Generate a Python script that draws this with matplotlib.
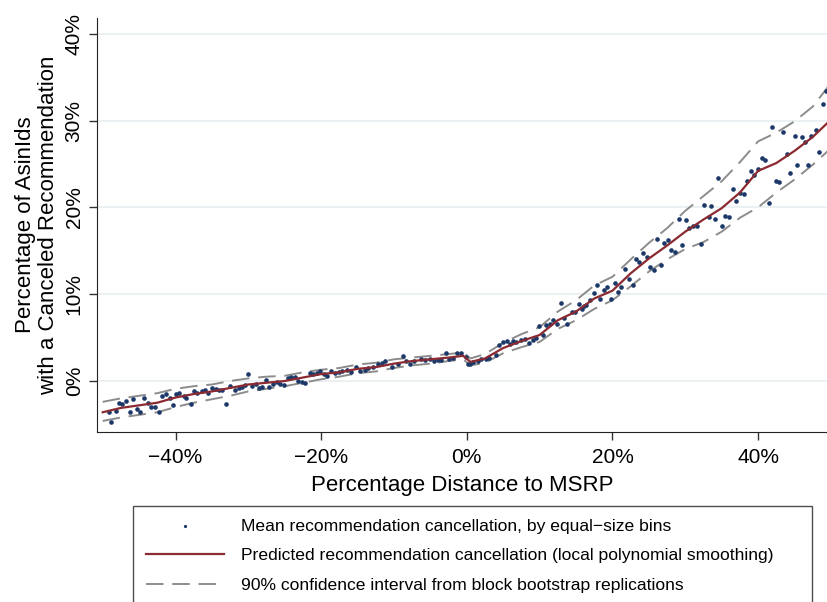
"""
Binned scatter of recommendation cancellation vs. distance to MSRP,
with local polynomial fit and bootstrap confidence band.
"""
import matplotlib
matplotlib.use('Agg')
import matplotlib.pyplot as plt
from matplotlib.ticker import FixedLocator, FuncFormatter

plt.rcParams['font.family'] = ['Liberation Sans', 'DejaVu Sans']

# binned means (x = % distance to MSRP, y = % with a canceled recommendation)
BIN_X = [
    -49.2, -48.8, -48.2, -47.8, -47.3, -46.8, -46.2, -45.8, -45.3, -44.9,
    -44.3, -43.8, -43.4, -42.8, -42.3, -41.9, -41.3, -40.8, -40.3, -39.9,
    -39.5, -38.9, -38.5, -37.9, -37.5, -37.0, -36.4, -35.9, -35.5, -35.0,
    -34.5, -34.0, -33.6, -33.0, -32.5, -31.8, -31.3, -30.9, -30.5, -30.0,
    -29.5, -29.0, -28.5, -28.1, -27.6, -27.2, -26.6, -26.1, -25.6, -25.1,
    -24.6, -24.2, -23.6, -23.2, -22.6, -22.2, -21.6, -21.1, -20.6, -20.2,
    -19.6, -19.2, -18.7, -18.1, -17.6, -17.2, -16.5, -15.9, -15.2, -14.6,
    -14.0, -13.5, -12.9, -12.2, -11.6, -11.2, -10.3, -9.5, -8.8, -8.3,
    -7.8, -7.2, -6.3, -5.8, -5.1, -4.5, -3.9, -3.5, -2.9, -2.4,
    -1.9, -1.3, -0.8, -0.1, 0.2, 0.5, 0.9, 1.5, 2.0, 2.6,
    3.0, 4.0, 4.4, 5.0, 5.5, 5.9, 6.4, 6.8, 7.4, 8.0,
    8.5, 9.1, 9.5, 9.9, 10.5, 10.9, 11.4, 11.9, 12.4, 12.9,
    13.3, 13.8, 14.4, 14.8, 15.4, 15.8, 16.1, 16.4, 16.9, 17.4,
    17.9, 18.3, 18.8, 19.3, 19.8, 20.3, 20.8, 21.2, 21.7, 22.3,
    22.8, 23.2, 23.7, 24.2, 24.7, 25.1, 25.7, 26.1, 26.6, 27.1,
    27.6, 28.1, 28.6, 29.2, 29.6, 30.1, 30.5, 31.1, 31.6, 32.1,
    32.6, 33.2, 33.5, 34.1, 34.5, 35.0, 35.5, 36.0, 36.5, 37.0,
    37.5, 38.0, 38.5, 39.0, 39.5, 40.0, 40.5, 40.9, 41.5, 41.9,
    42.4, 42.9, 43.4, 44.0, 44.4, 45.0, 45.4, 46.0, 46.4, 46.9,
    47.3, 47.9, 48.4, 48.9, 49.3,
]
BIN_Y = [
    -3.6, -4.7, -3.4, -2.5, -2.7, -2.3, -3.6, -2.1, -3.2, -3.6,
    -1.9, -2.5, -3.0, -3.0, -3.6, -1.7, -1.5, -2.0, -2.8, -1.5,
    -1.4, -1.7, -2.0, -2.6, -1.2, -1.4, -1.2, -1.0, -1.4, -0.8,
    -0.9, -1.0, -1.0, -2.65, -0.6, -1.0, -0.8, -0.7, -0.5, 0.8,
    -0.6, -0.3, -0.8, -0.7, 0.1, -0.7, -0.3, -0.1, -0.3, -0.5,
    0.4, 0.5, 0.5, 0.0, -0.1, -0.2, 0.9, 0.8, 0.9, 1.1,
    0.8, 0.6, 1.2, 0.9, 1.0, 1.1, 1.3, 1.0, 1.6, 1.1,
    1.3, 1.5, 1.6, 2.0, 2.1, 2.3, 1.6, 2.0, 2.9, 2.3,
    2.0, 2.3, 2.5, 2.4, 2.5, 2.3, 2.4, 2.4, 3.2, 2.5,
    2.7, 3.2, 3.2, 2.8, 2.0, 2.0, 2.2, 2.3, 2.5, 2.5,
    2.6, 3.0, 4.1, 4.5, 4.6, 4.3, 4.6, 4.5, 4.7, 4.8,
    4.4, 4.7, 4.9, 6.3, 5.3, 6.5, 6.6, 7.0, 6.6, 9.0,
    7.2, 6.6, 7.9, 7.9, 8.9, 8.3, 8.6, 8.8, 9.3, 10.1,
    11.1, 9.5, 10.5, 10.8, 9.4, 11.3, 10.2, 10.8, 12.9, 11.7,
    11.1, 14.0, 13.7, 14.7, 14.3, 13.1, 12.8, 16.4, 13.4, 15.9,
    16.2, 15.1, 14.9, 18.7, 15.7, 18.5, 17.6, 17.9, 17.9, 15.8,
    20.3, 18.9, 20.2, 18.7, 23.4, 17.8, 19.0, 18.9, 22.1, 20.7,
    21.6, 21.5, 23.0, 24.2, 23.7, 24.4, 25.7, 25.4, 20.5, 29.2,
    23.0, 22.9, 28.7, 26.1, 24.0, 28.2, 24.9, 28.1, 27.5, 24.9,
    28.2, 28.9, 26.4, 31.9, 33.4,
]

# smoothed fit and 90% bootstrap band, read at fixed x positions
FIT_X = [-50, -47.5, -45, -42.5, -40, -37.5, -35, -32.5, -30, -27.5,
         -25, -22.5, -20, -17.5, -15, -12.5, -10, -7.5, -5, -2.5,
         -0.5, 0.5, 2.5, 5, 7.5, 10, 12.5, 15, 17.5, 20,
         22.5, 25, 27.5, 30, 32.5, 35, 37.5, 40, 42.5, 45,
         47.5, 50]
FIT_Y = [-3.6, -3.1, -2.8, -2.5, -1.9, -1.5, -1.2, -0.8, -0.4, -0.2,
         0.0, 0.4, 0.8, 1.0, 1.4, 1.6, 2.0, 2.3, 2.5, 2.7,
         2.9, 2.2, 2.6, 3.8, 4.6, 5.3, 7.0, 8.0, 9.5, 10.4,
         12.4, 14.1, 15.6, 17.2, 18.6, 19.9, 21.7, 24.2, 25.1, 26.5,
         28.1, 30.1]
CI_HI = [-2.4, -2.0, -1.7, -1.4, -0.9, -0.6, -0.4, 0.0, 0.3, 0.5,
         0.6, 1.0, 1.3, 1.5, 1.9, 2.1, 2.5, 2.7, 2.9, 3.1,
         3.3, 2.6, 3.1, 4.4, 5.4, 6.2, 8.0, 9.3, 11.0, 12.0,
         14.0, 15.9, 17.6, 19.6, 21.3, 23.0, 25.2, 27.6, 28.6, 29.9,
         31.6, 34.3]
CI_LO = [-4.6, -4.2, -3.9, -3.6, -3.0, -2.5, -2.1, -1.7, -1.2, -0.9,
         -0.6, -0.2, 0.2, 0.5, 0.9, 1.1, 1.5, 1.8, 2.0, 2.3,
         2.5, 1.8, 2.1, 3.2, 3.9, 4.5, 6.0, 7.0, 8.3, 9.3,
         10.9, 12.6, 14.0, 15.2, 16.0, 17.2, 18.8, 20.0, 21.7, 23.2,
         24.9, 26.8]

X_TICKS = [-40, -20, 0, 20, 40]
Y_TICKS = [0, 10, 20, 30, 40]


def pct(v, _pos=None):
    return f'{int(v)}%'.replace('-', '\u2212')


fig = plt.figure(figsize=(8.28, 6.02), dpi=100)
ax = fig.add_axes([0.117, 0.282, 0.883, 0.688])

ax.scatter(BIN_X, BIN_Y, s=11, color='#1c3868', zorder=3, linewidths=0,
           label='Mean recommendation cancellation, by equal\u2212size bins')
ax.plot(FIT_X, FIT_Y, color='#8b2a30', lw=1.6, zorder=4,
        label='Predicted recommendation cancellation (local polynomial smoothing)')
ax.plot(FIT_X, CI_HI, color='#8c8c8c', lw=1.4, dashes=(9, 4.5), zorder=2,
        label='90% confidence interval from block bootstrap replications')
ax.plot(FIT_X, CI_LO, color='#8c8c8c', lw=1.4, dashes=(9, 4.5), zorder=2)

ax.set_xlim(-50.8, 49.6)
ax.set_ylim(-5.9, 41.8)
ax.xaxis.set_major_locator(FixedLocator(X_TICKS))
ax.yaxis.set_major_locator(FixedLocator(Y_TICKS))
ax.xaxis.set_major_formatter(FuncFormatter(pct))
ax.yaxis.set_major_formatter(FuncFormatter(pct))
ax.tick_params(labelsize=15, length=6, width=1, color='#333333')
ax.tick_params(axis='x', pad=5)
plt.setp(ax.get_yticklabels(), rotation=90, va='center')

ax.grid(axis='y', color='#e8eff1', lw=1.2)
ax.set_axisbelow(True)
for side in ['top', 'right']:
    ax.spines[side].set_visible(False)
for side in ['left', 'bottom']:
    ax.spines[side].set_color('#222222')

ax.set_xlabel('Percentage Distance to MSRP', fontsize=16, labelpad=6)
ax.set_ylabel('Percentage of AsinIds\nwith a Canceled Recommendation',
              fontsize=16, labelpad=4, linespacing=1.12)

leg = fig.legend(loc='upper left', bbox_to_anchor=(0.1606, 0.1595, 0.82, 0.0),
                 mode='expand', borderaxespad=0.0, fontsize=12.6, frameon=True,
                 fancybox=False, edgecolor='#222222', handlelength=4.5,
                 handletextpad=0.95, labelspacing=0.82, borderpad=0.72,
                 markerscale=0.7, scatterpoints=1)
leg.get_frame().set_linewidth(1.0)

fig.savefig('out.png', dpi=100)
